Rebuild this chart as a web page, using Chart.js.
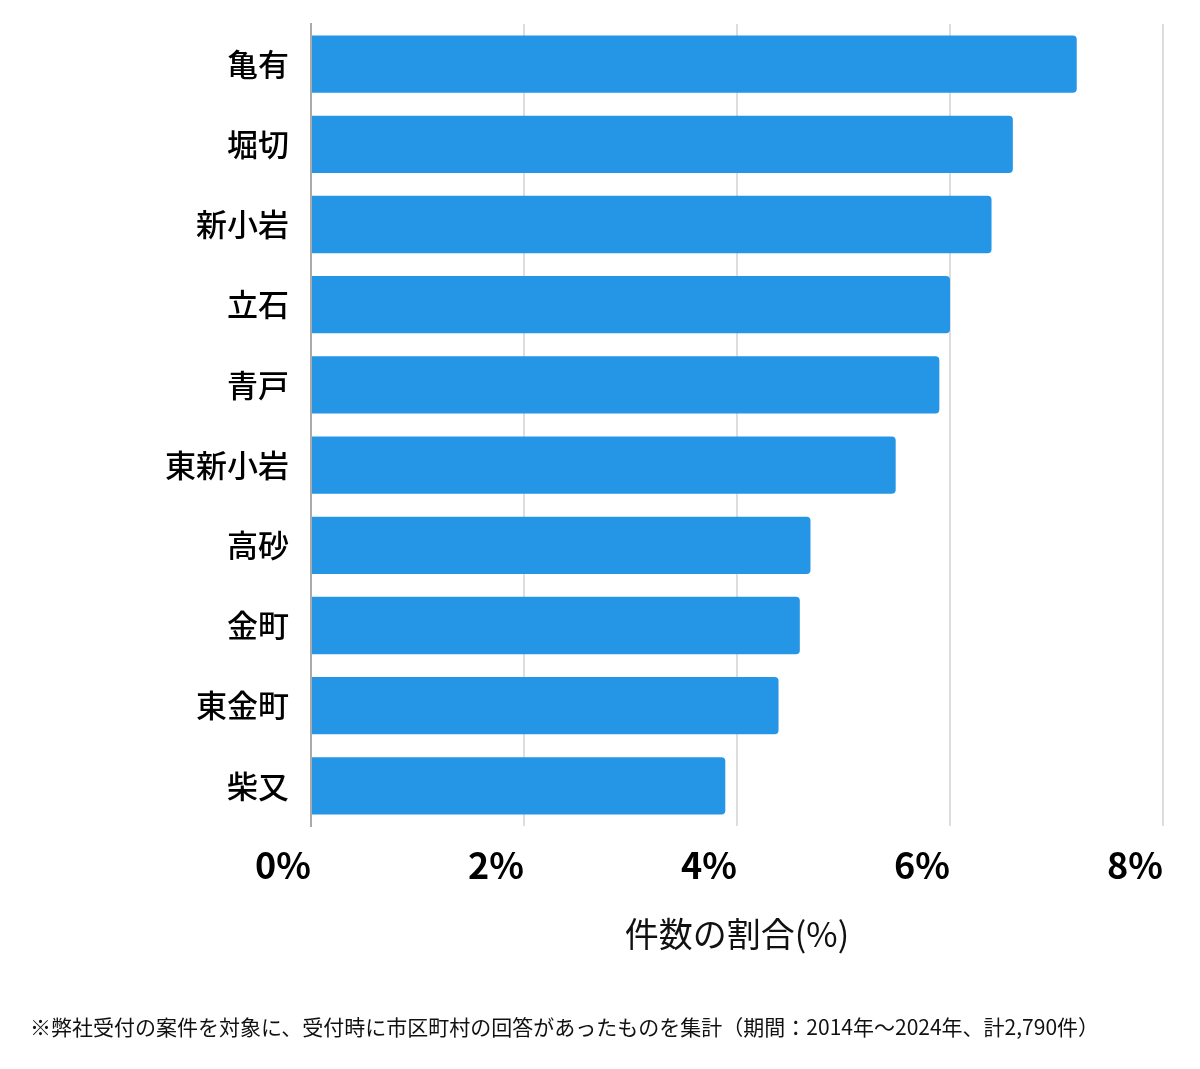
<!DOCTYPE html>
<html lang="ja">
<head>
<meta charset="utf-8">
<script src="https://cdn.jsdelivr.net/npm/chart.js@4.4.1/dist/chart.umd.min.js"></script>
<style>
  html, body { margin: 0; padding: 0; background: #fff; }
  .wrap { position: relative; width: 1200px; height: 1069px; }
  .note {
    position: absolute; left: 30px; top: 1011px;
    font-family: "Noto Sans CJK JP", sans-serif; font-size: 21px; color: #111;
    white-space: nowrap;
  }
</style>
</head>
<body>
<div class="wrap">
  <canvas id="myChart"></canvas>
  <div class="note">※弊社受付の案件を対象に、受付時に市区町村の回答があったものを集計（期間：2014年～2024年、計2,790件）</div>
</div>
<script>
/* DATA */
const areas = ['亀有', '堀切', '新小岩', '立石', '青戸', '東新小岩', '高砂', '金町', '東金町', '柴又'];
const shares = [7.19, 6.59, 6.39, 6.0, 5.9, 5.49, 4.69, 4.59, 4.39, 3.89];
const tickValues = [0, 2, 4, 6, 8];

const jpFont = '"Noto Sans CJK JP", "Noto Sans", sans-serif';

/* CHART */
const ctx = document.getElementById('myChart');

new Chart(ctx, {
  type: 'bar',
  data: {
    labels: areas,
    datasets: [{
      data: shares,
      backgroundColor: 'rgb(37, 150, 230)',
      borderRadius: 4,
      barPercentage: 0.715,
      categoryPercentage: 1
    }]
  },
  options: {
    indexAxis: 'y',
    responsive: true,
    maintainAspectRatio: false,
    animation: false,
    layout: {
      padding: { top: 24, right: 37, bottom: 115, left: 0 }
    },
    plugins: {
      legend: { display: false },
      tooltip: { enabled: false }
    },
    scales: {
      x: {
        min: 0,
        max: 8,
        afterBuildTicks: function (scale) {
          scale.ticks = tickValues.map(v => ({ value: v }));
        },
        afterFit: function (scale) {
          scale.height = 128;
          scale.paddingLeft = 0;
          scale.paddingRight = 0;
        },
        grid: { color: '#dddddd', lineWidth: 2, drawTicks: false },
        border: { display: false },
        ticks: {
          align: 'end',
          padding: 18,
          color: '#000',
          font: { family: jpFont, size: 36, weight: 'bold' },
          callback: v => v + '%'
        },
        title: {
          display: true,
          text: '件数の割合(%)',
          color: '#111',
          padding: { top: 0, bottom: 0 },
          font: { family: jpFont, size: 34, weight: 'normal' }
        }
      },
      y: {
        afterFit: function (scale) {
          scale.width = 311;
          scale.paddingTop = 0;
          scale.paddingBottom = 0;
        },
        grid: { display: false, drawTicks: false },
        border: { display: true, color: '#aaaaaa', width: 2 },
        ticks: {
          padding: 22,
          color: '#000',
          font: { family: jpFont, size: 31, weight: 500 }
        }
      }
    }
  }
});
</script>
</body>
</html>
